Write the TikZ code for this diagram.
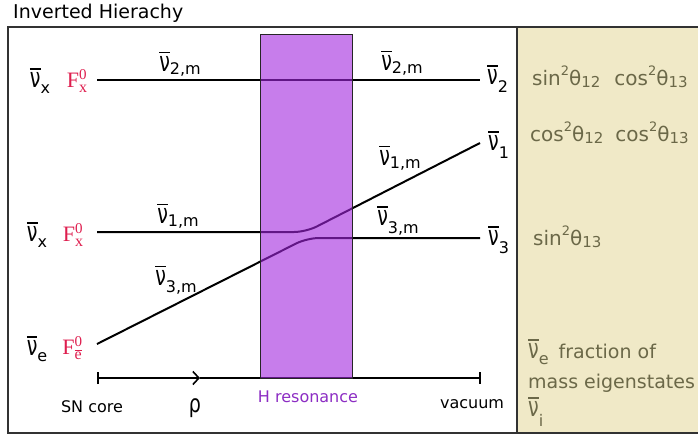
\documentclass[tikz,border=0pt]{standalone}
\usepackage[no-math]{fontspec}
\setmainfont{DejaVu Sans}
\newfontfamily\fserif{Liberation Serif}
\usepackage{graphicx}
\usetikzlibrary{arrows.meta}
\definecolor{fred}{RGB}{222,30,78}
\definecolor{olive}{RGB}{107,104,72}
\definecolor{beige}{RGB}{240,233,199}
\definecolor{rfill}{RGB}{162,38,222}
\definecolor{hpurp}{RGB}{140,45,195}
\definecolor{frame}{RGB}{50,50,50}
\newsavebox\nubox
\newcommand\nubar{\sbox\nubox{\scalebox{1}[1.45]{ν}}\vbox{\hrule height 1.6pt width \wd\nubox\kern 3pt\copy\nubox}}
\newcommand\nus[2][4pt]{\nubar\raisebox{-#1}{\fontsize{16}{16}\selectfont #2}}
\newcommand\sq[1]{\raisebox{0.5em}{\fontsize{13}{13}\selectfont #1}}
\newcommand\sbs[1]{\raisebox{-0.12em}{\fontsize{15}{15}\selectfont #1}}
\newsavebox\ebox
\newcommand\ebar{\sbox\ebox{e}\vbox{\hrule height 0.9pt width \wd\ebox\kern 1.2pt\copy\ebox}}
\newcommand\Fflux[1]{{\fserif\fontsize{22}{22}\selectfont F\rlap{\raisebox{8pt}{\fontsize{15}{15}\selectfont 0}}\raisebox{-5pt}{\fontsize{16}{16}\selectfont #1}}}
\begin{document}
\begin{tikzpicture}[x=1pt,y=-1pt,
  every node/.style={inner sep=0pt},
  lbl/.style={font=\fontsize{19}{19}\selectfont},
  fl/.style={text=fred},
  ax/.style={font=\fontsize{16}{16}\selectfont},
  rp/.style={text=olive,anchor=west,font=\fontsize{20}{20}\selectfont},
  rq/.style={text=olive,anchor=west,font=\fontsize{19}{19}\selectfont},
  level/.style={line width=2pt,rounded corners=12pt}]
\useasboundingbox (0,0) rectangle (698,437);
% panel
\fill[beige] (517,27) rectangle (698,433);
\draw[frame,line width=1.6pt] (698,27) -- (8,27) -- (8,433) -- (698,433);
\draw[frame,line width=1.6pt] (517,27) -- (517,433);
\node[anchor=base west,font=\fontsize{19}{19}\selectfont] (title) at (13,18) {Inverted Hierachy};
% coordinates
\coordinate (a2) at (97,80);
\coordinate (b2) at (480,80);
\coordinate (a1) at (97,232);
\coordinate (k1) at (306,232);
\coordinate (b1) at (480,143);
\coordinate (a3) at (97,344);
\coordinate (k3) at (307,238);
\coordinate (b3) at (480,238);
\coordinate (ax0) at (97,378);
\coordinate (axm) at (200,378);
\coordinate (ax1) at (481,378);
% levels
\draw[level] (a2) -- (b2);
\draw[level] (a1) -- (k1) -- (b1);
\draw[level] (a3) -- (k3) -- (b3);
% axis
\draw[line width=1.6pt,{Bar[width=12pt]}-{Straight Barb[length=6pt,width=13pt]}] (ax0) -- (axm);
\draw[line width=1.6pt,-{Bar[width=12pt]}] (axm) -- (ax1);
% resonance band
\draw[fill=rfill,fill opacity=0.6,draw=black!85,line width=1pt] (260,34) rectangle (352,378);
% left labels
\node[lbl] (nx1) at (40,81) {\nus[6pt]{x}};
\node[fl] (F1) at (77,81) {\Fflux{x}};
\node[lbl] (nx2) at (37,235) {\nus[6pt]{x}};
\node[fl] (F2) at (73,235) {\Fflux{x}};
\node[lbl] (ne) at (37,349) {\nus[6pt]{e}};
\node[fl] (F3) at (72,348) {\Fflux{\ebar}};
% line labels
\node[lbl] (l2a) at (180,64) {\nus[3pt]{2,m}};
\node[lbl] (l2b) at (402,63) {\nus[3pt]{2,m}};
\node[lbl] (l1b) at (400,158) {\nus[3pt]{1,m}};
\node[lbl] (l1a) at (178,216) {\nus[3pt]{1,m}};
\node[lbl] (l3a) at (176,280) {\nus[7pt]{3,m}};
\node[lbl] (l3b) at (398,221) {\nus[8pt]{3,m}};
% right end labels
\node[lbl,anchor=west] (n2) at (487,79) {\nus[8pt]{2}};
\node[lbl,anchor=west] (n1) at (488,145) {\nus[8pt]{1}};
\node[lbl,anchor=west] (n3) at (488,240) {\nus[8pt]{3}};
% axis labels
\node[ax] (core) at (92,407) {SN core};
\node[font=\fontsize{19}{19}\selectfont] (rho) at (195,408) {\scalebox{1}[1.3]{ρ}};
\node[ax,text=hpurp] (hres) at (308,397) {H resonance};
\node[ax] (vac) at (472,404) {vacuum};
% right panel
\node[rp] (p2) at (532,77) {sin\sq{2}θ\sbs{12}\hspace{14pt}cos\sq{2}θ\sbs{13}};
\node[rp] (p1) at (530,133) {cos\sq{2}θ\sbs{12}\hspace{12pt}cos\sq{2}θ\sbs{13}};
\node[rp] (p3) at (533,237) {sin\sq{2}θ\sbs{13}};
\node[rq] (f1) at (528,352) {\nus[6pt]{e}\hspace{10pt}fraction of};
\node[rq,anchor=base west] (f2) at (528,388) {mass eigenstates};
\node[rq] (f3) at (528,412) {\nus[10pt]{i}};
\end{tikzpicture}
\end{document}
